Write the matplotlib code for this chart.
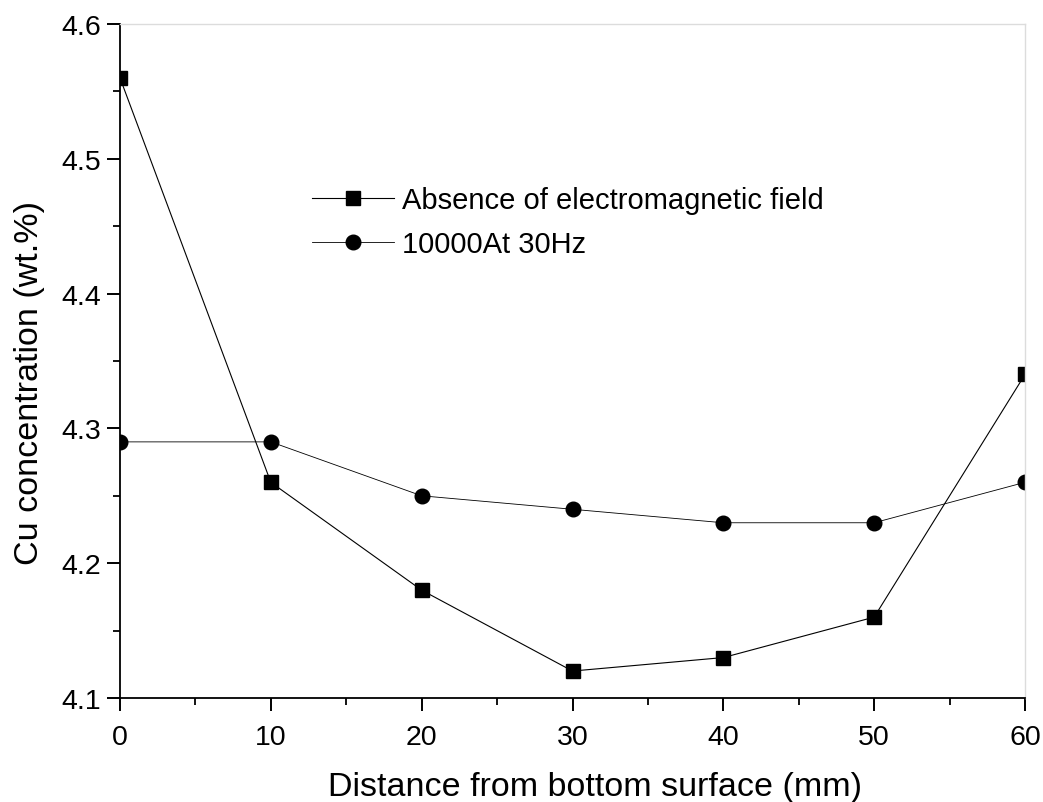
import matplotlib
matplotlib.use("Agg")
import matplotlib.pyplot as plt
from matplotlib.ticker import MultipleLocator, FormatStrFormatter

plt.rcParams['font.family'] = ['Liberation Sans', 'DejaVu Sans']

distance = [0, 10, 20, 30, 40, 50, 60]
cu_no_field = [4.56, 4.26, 4.18, 4.12, 4.13, 4.16, 4.34]
cu_field = [4.29, 4.29, 4.25, 4.24, 4.23, 4.23, 4.26]
series_labels = ["Absence of electromagnetic field", "10000At 30Hz"]

fig = plt.figure(figsize=(10.43, 8.03), dpi=100)
ax = fig.add_axes([120 / 1043, 1 - 699 / 803, (1025 - 120) / 1043, (699 - 25) / 803])

ax.plot(distance, cu_no_field, color='black', lw=0.8, marker='s', ms=9.5,
        label=series_labels[0])
ax.plot(distance, cu_field, color='black', lw=0.6, marker='o', ms=10.5,
        label=series_labels[1])

ax.xaxis.set_major_locator(MultipleLocator(10))
ax.xaxis.set_minor_locator(MultipleLocator(5))
ax.yaxis.set_major_locator(MultipleLocator(0.1))
ax.yaxis.set_minor_locator(MultipleLocator(0.05))
ax.yaxis.set_major_formatter(FormatStrFormatter('%.1f'))
ax.set_xlim(0, 60)
ax.set_ylim(4.1, 4.6)

ax.tick_params(which='major', direction='out', length=9.5, width=1.4,
               labelsize=20.5, pad=4)
ax.tick_params(axis='x', which='major', pad=9.5)
ax.tick_params(which='minor', direction='out', length=5, width=1.3)

for side in ('left', 'bottom'):
    ax.spines[side].set_linewidth(1.3)
for side in ('top', 'right'):
    ax.spines[side].set_color('#dcdcdc')
    ax.spines[side].set_linewidth(1.0)

ax.set_xlabel("Distance from bottom surface (mm)", fontsize=24.5, labelpad=15)
ax.set_ylabel("Cu concentration (wt.%)", fontsize=24.5, labelpad=12)
ax.xaxis.label.set_x(0.525)
ax.yaxis.label.set_y(0.469)

ax.legend(loc='upper left', bbox_to_anchor=(312 / 1043, 1 - 187 / 803),
          bbox_transform=fig.transFigure, frameon=False, fontsize=21,
          handlelength=2.8, handletextpad=0.3, borderpad=0, borderaxespad=0,
          labelspacing=0.55)

fig.savefig("out.png", dpi=100)
